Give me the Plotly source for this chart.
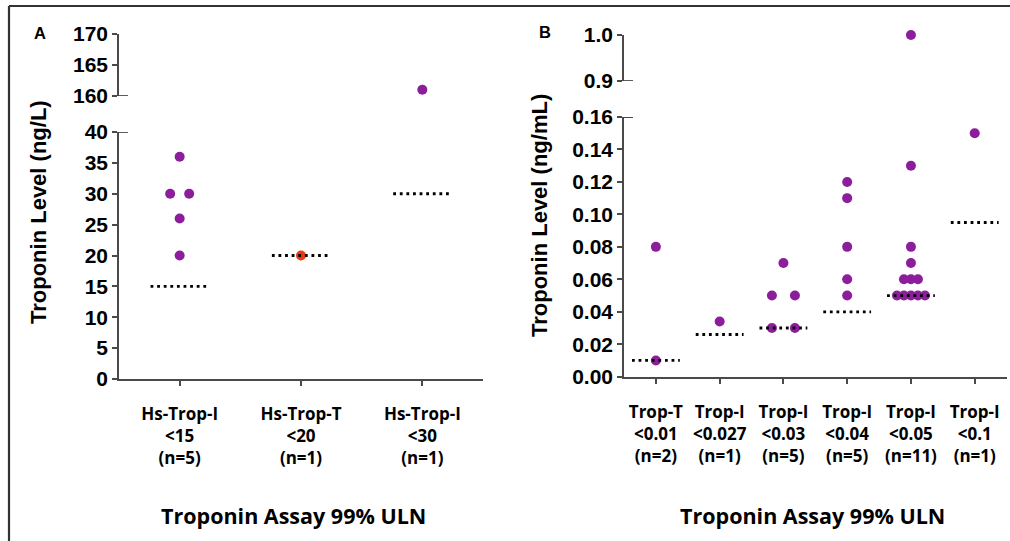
import plotly.graph_objects as go

# ---------------- data ----------------
a_categories = ["Hs-Trop-I<br>&lt;15<br>(n=5)", "Hs-Trop-T<br>&lt;20<br>(n=1)", "Hs-Trop-I<br>&lt;30<br>(n=1)"]
a_values = [[36, 30, 30, 26, 20], [20], [161]]
a_uln = [15, 20, 30]

b_categories = ["Trop-T<br>&lt;0.01<br>(n=2)", "Trop-I<br>&lt;0.027<br>(n=1)", "Trop-I<br>&lt;0.03<br>(n=5)",
                "Trop-I<br>&lt;0.04<br>(n=5)", "Trop-I<br>&lt;0.05<br>(n=11)", "Trop-I<br>&lt;0.1<br>(n=1)"]
b_values = [[0.08, 0.01], [0.034], [0.07, 0.05, 0.05, 0.03, 0.03], [0.12, 0.11, 0.08, 0.06, 0.05],
            [1.0, 0.13, 0.08, 0.07, 0.06, 0.06, 0.06, 0.05, 0.05, 0.05, 0.05, 0.05], [0.15]]
b_uln = [0.01, 0.026, 0.03, 0.04, 0.05, 0.095]

a_yticks_low = [0, 5, 10, 15, 20, 25, 30, 35, 40]
a_yticks_high = [160, 165, 170]
b_yticks_low = [0, 0.02, 0.04, 0.06, 0.08, 0.10, 0.12, 0.14, 0.16]
b_yticks_high = [0.9, 1.0]

# ---------------- style ----------------
W, H = 1010, 541
PURPLE = "#8C1E9C"
RED = "#F0380E"
AXC = "#4a4a4a"
a_colors = [PURPLE, RED, PURPLE]
b_colors = [PURPLE] * 6
a_gap_px = [19, 19, 19]          # horizontal gap between tied points (pixels)
b_gap_px = [8, 8, 23, 8, 7, 8]
a_half = 0.24                     # half width of ULN dotted line (category units)
b_half = 0.375

def X(px):
    return px / W

def Y(py):
    return 1 - py / H

# pixel geometry
A_X0, A_X1 = 119, 483
A_LOW = (379, 132)
A_HIGH = (96, 34)
B_X0, B_X1 = 624, 1006.6
B_LOW = (376.7, 117)
B_HIGH = (81, 35)

a_px_per_cat = (A_X1 - A_X0) / 3
b_px_per_cat = (B_X1 - B_X0) / 6

fig = go.Figure()

def add_panel(values, uln, colors, gaps, px_per_cat, half, xa, ylow, yhigh, brk):
    for i, vals in enumerate(values):
        counts = {}
        for v in vals:
            counts[v] = counts.get(v, 0) + 1
        seen = {}
        xs_l, ys_l, xs_h, ys_h = [], [], [], []
        for v in vals:
            k = counts[v]
            j = seen.get(v, 0)
            seen[v] = j + 1
            off = (j - (k - 1) / 2) * gaps[i] / px_per_cat
            if v >= brk:
                xs_h.append(i + off); ys_h.append(v)
            else:
                xs_l.append(i + off); ys_l.append(v)
        mk = dict(color=colors[i], size=10, line=dict(width=0))
        if xs_l:
            fig.add_trace(go.Scatter(x=xs_l, y=ys_l, mode="markers", marker=mk, xaxis=xa, yaxis=ylow,
                                     cliponaxis=False, showlegend=False))
        if xs_h:
            fig.add_trace(go.Scatter(x=xs_h, y=ys_h, mode="markers", marker=mk, xaxis=xa, yaxis=yhigh,
                                     cliponaxis=False, showlegend=False))
    for i, u in enumerate(uln):
        fig.add_trace(go.Scatter(x=[i - half, i + half], y=[u, u], mode="lines",
                                 line=dict(color="black", width=2.8, dash="2.8px,3.8px"),
                                 xaxis=xa, yaxis=ylow, cliponaxis=False, showlegend=False))

add_panel(a_values, a_uln, a_colors, a_gap_px, a_px_per_cat, a_half, "x", "y", "y2", 100)
add_panel(b_values, b_uln, b_colors, b_gap_px, b_px_per_cat, b_half, "x2", "y3", "y4", 0.5)

yfont = dict(family="Liberation Sans, Arial", size=21, color="black", weight="bold")
xfont = dict(family="Open Sans", size=17, color="black", weight="bold")

common_ax = dict(showline=True, linecolor=AXC, linewidth=1.6, ticks="outside", ticklen=5,
                 tickcolor=AXC, tickwidth=1.6, showgrid=False, zeroline=False, fixedrange=True,
                 automargin=False)

fig.update_layout(
    width=W, height=H, autosize=False,
    margin=dict(l=0, r=0, t=0, b=0, pad=0, autoexpand=False),
    showlegend=False,
    paper_bgcolor="white", plot_bgcolor="white",
    xaxis=dict(domain=[X(A_X0), X(A_X1)], range=[-0.5, 2.5], anchor="y",
               tickvals=list(range(3)), ticktext=a_categories, tickfont=xfont,
               ticklabelstandoff=14, **common_ax),
    yaxis=dict(domain=[Y(A_LOW[0]), Y(A_LOW[1])], range=[0, 40], anchor="x",
               tickvals=a_yticks_low, tickfont=yfont, **common_ax),
    yaxis2=dict(domain=[Y(A_HIGH[0]), Y(A_HIGH[1])], range=[160, 170], anchor="x",
                tickvals=a_yticks_high, tickfont=yfont, **common_ax),
    xaxis2=dict(domain=[X(B_X0), X(B_X1)], range=[-0.5, 5.5], anchor="y3",
                tickvals=list(range(6)), ticktext=b_categories, tickfont=xfont,
                ticklabelstandoff=14, **common_ax),
    yaxis3=dict(domain=[Y(B_LOW[0]), Y(B_LOW[1])], range=[0, 0.16], anchor="x2",
                tickvals=b_yticks_low, tickformat=".2f", tickfont=yfont, **common_ax),
    yaxis4=dict(domain=[Y(B_HIGH[0]), Y(B_HIGH[1])], range=[0.9, 1.0], anchor="x2",
                tickvals=b_yticks_high, tickformat=".1f", tickfont=yfont, **common_ax),
)

# break marks crossing the axis
for xpx, yref, yv in [(A_X0, "y2", 160), (A_X0, "y", 40), (B_X0, "y4", 0.9), (B_X0, "y3", 0.16)]:
    fig.add_shape(type="line", xref="paper", yref=yref, x0=X(xpx - 2), x1=X(xpx + 9), y0=yv, y1=yv,
                  line=dict(color=AXC, width=1.8))

# outer frame (top and left)
fig.add_shape(type="line", xref="paper", yref="paper", x0=X(9), x1=1.0, y0=Y(6), y1=Y(6),
              line=dict(color="#333333", width=2.2))
fig.add_shape(type="line", xref="paper", yref="paper", x0=X(9), x1=X(9), y0=Y(6), y1=0,
              line=dict(color="#333333", width=2.2))

title_font = dict(family="Liberation Sans, Arial", size=22, color="black", weight="bold")
xt_font = dict(family="Open Sans", size=21.5, color="black", weight="bold")
panel_font = dict(family="Liberation Sans, Arial", size=16.5, color="black", weight="bold")

ann = [
    dict(text="A", x=X(40), y=Y(33), font=panel_font),
    dict(text="B", x=X(545), y=Y(32), font=panel_font),
    dict(text="Troponin Level (ng/L)", x=X(38), y=Y(212), textangle=-90, font=title_font),
    dict(text="Troponin Level (ng/mL)", x=X(540), y=Y(216), textangle=-90, font=title_font),
    dict(text="Troponin Assay 99% ULN", x=X(293), y=Y(515), font=xt_font),
    dict(text="Troponin Assay 99% ULN", x=X(812), y=Y(515), font=xt_font),
]
for a in ann:
    fig.add_annotation(xref="paper", yref="paper", showarrow=False, xanchor="center", yanchor="middle", **a)

fig.write_html("out.html", config={"displayModeBar": False},
               post_script="document.body.style.margin='0px';document.body.style.overflow='hidden';")
